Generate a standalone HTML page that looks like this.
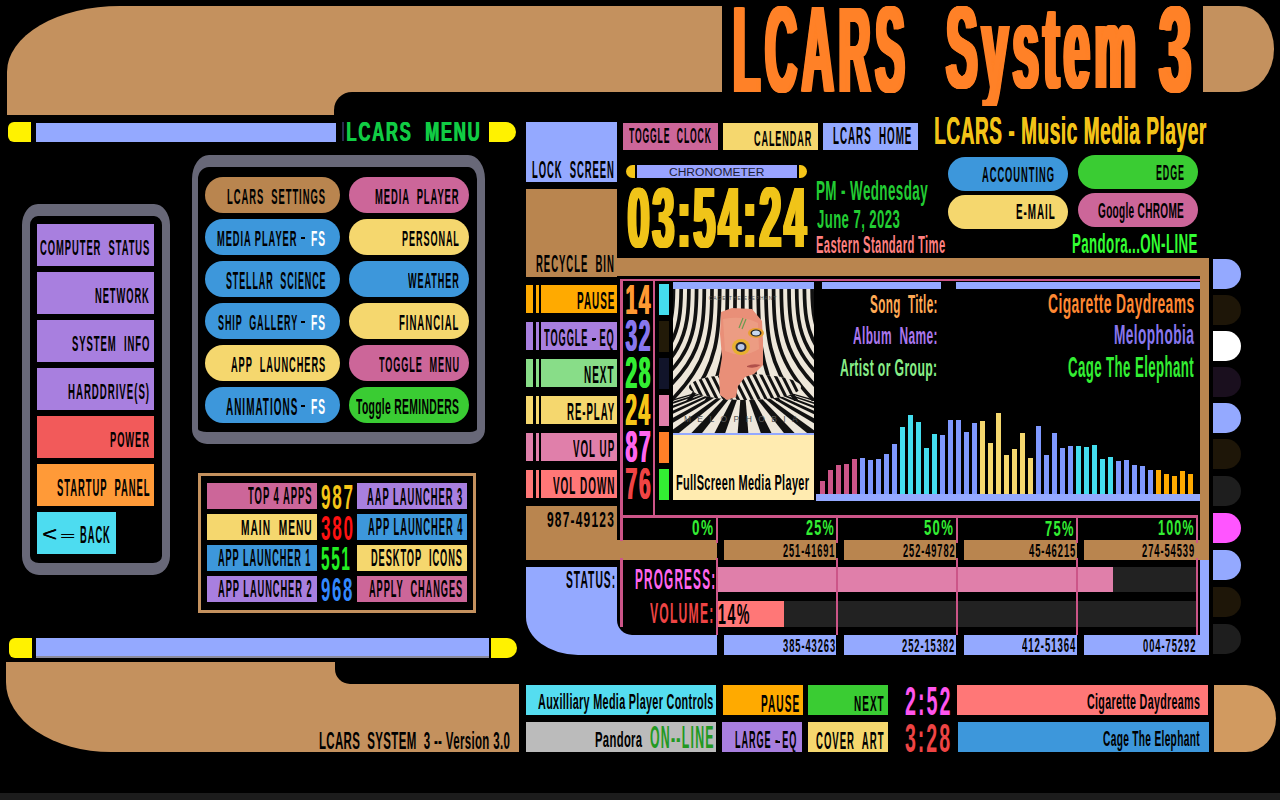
<!DOCTYPE html>
<html><head><meta charset="utf-8"><title>LCARS System 3</title>
<style>
html,body{margin:0;padding:0;background:#000;width:1280px;height:800px;overflow:hidden}
body{position:relative;font-family:"Liberation Sans",sans-serif}
.b{position:absolute}
.t{position:absolute;white-space:pre;line-height:1;font-weight:bold;transform-origin:0 0}
</style></head><body>
<div class="b" style="left:7px;top:6px;width:715px;height:109px;background:#C4915E;border-radius:113px 0 0 0 / 66px 0 0 0;"></div>
<div class="b" style="left:334px;top:91.5px;width:388px;height:26.5px;background:#000;border-radius:18px 0 0 0;"></div>
<div class="b" style="left:1203px;top:6px;width:71px;height:85.5px;background:#C4915E;border-radius:0 35px 35px 0 / 0 42.75px 42.75px 0;"></div>
<div class="t" style="left:731.05px;top:-11.14px;font-size:122.80px;transform:scaleX(0.3554);color:#FF8127;letter-spacing:14.74px;text-shadow:1.58px 0 0 #FF8127,3.17px 0 0 #FF8127,4.75px 0 0 #FF8127,6.33px 0 0 #FF8127,7.91px 0 0 #FF8127,9.50px 0 0 #FF8127,11.08px 0 0 #FF8127,12.66px 0 0 #FF8127;">LCARS</div>
<div class="t" style="left:943.51px;top:-10.85px;font-size:117.37px;transform:scaleX(0.3985);color:#FF8127;letter-spacing:11.74px;text-shadow:1.41px 0 0 #FF8127,2.82px 0 0 #FF8127,4.23px 0 0 #FF8127,5.65px 0 0 #FF8127,7.06px 0 0 #FF8127,8.47px 0 0 #FF8127,9.88px 0 0 #FF8127,11.29px 0 0 #FF8127;">System</div>
<div class="t" style="left:1156.81px;top:-11.36px;font-size:122.33px;transform:scaleX(0.4697);color:#FF8127;letter-spacing:9.79px;text-shadow:1.20px 0 0 #FF8127,2.40px 0 0 #FF8127,3.59px 0 0 #FF8127,4.79px 0 0 #FF8127,5.99px 0 0 #FF8127,7.19px 0 0 #FF8127,8.38px 0 0 #FF8127,9.58px 0 0 #FF8127;">3</div>
<div class="b" style="left:8px;top:122px;width:23px;height:19.5px;background:#FFF200;border-radius:6px 0 0 6px;"></div>
<div class="b" style="left:36px;top:122.5px;width:300px;height:19.0px;background:#94A9FF;"></div>
<div class="b" style="left:342px;top:122px;width:2px;height:19px;background:#2A2A50;"></div>
<div class="t" style="left:345.87px;top:117.61px;font-size:27.64px;transform:scaleX(0.6073);color:#11CC44;letter-spacing:2.76px;text-shadow:1.32px 0 0 #11CC44;">LCARS  MENU</div>
<div class="b" style="left:489px;top:122px;width:27px;height:19.5px;background:#FFF200;border-radius:0 10px 10px 0;"></div>
<div class="b" style="left:9px;top:638px;width:23px;height:20px;background:#FFF200;border-radius:6px 0 0 6px;"></div>
<div class="b" style="left:36px;top:638px;width:453px;height:19px;background:#94A9FF;"></div>
<div class="b" style="left:36px;top:656px;width:453px;height:2px;background:#8a8a9a;"></div>
<div class="b" style="left:491px;top:638px;width:26px;height:20px;background:#FFF200;border-radius:0 10px 10px 0;"></div>
<div class="b" style="left:6px;top:662px;width:513px;height:90px;background:#C4915E;border-radius:0 0 0 105px / 0 0 0 70px;"></div>
<div class="b" style="left:335px;top:660px;width:184px;height:24px;background:#000;border-radius:0 0 0 15px;"></div>
<div class="t" style="left:319.40px;top:728.76px;font-size:23.89px;transform:scaleX(0.4807);color:#000;letter-spacing:0.72px;">LCARS  SYSTEM  3 -- Version 3.0</div>
<div class="b" style="left:1214px;top:685px;width:62px;height:67px;background:#D19A60;border-radius:0 30px 30px 0 / 0 33.5px 33.5px 0;"></div>
<div class="b" style="left:0px;top:793px;width:1280px;height:7px;background:#1C1C1C;"></div>
<div class="b" style="left:21.5px;top:204px;width:148.5px;height:371px;box-sizing:border-box;border:solid #686878;border-width:12px 8px 12px 8px;border-radius:16px 16px 17px 17px / 21px 21px 19px 19px;"></div>
<div class="b" style="left:37px;top:224px;width:117px;height:42px;background:#A87FDF;"></div>
<div class="t" style="left:40.20px;top:236.86px;font-size:22.46px;transform:scaleX(0.4187);color:#000;letter-spacing:2.25px;">COMPUTER  STATUS</div>
<div class="b" style="left:37px;top:272px;width:117px;height:42px;background:#A87FDF;"></div>
<div class="t" style="left:95.18px;top:284.86px;font-size:22.46px;transform:scaleX(0.4156);color:#000;letter-spacing:2.25px;">NETWORK</div>
<div class="b" style="left:37px;top:320px;width:117px;height:42px;background:#A87FDF;"></div>
<div class="t" style="left:72.34px;top:333.20px;font-size:22.37px;transform:scaleX(0.4244);color:#000;letter-spacing:2.24px;">SYSTEM  INFO</div>
<div class="b" style="left:37px;top:368px;width:117px;height:42px;background:#A87FDF;"></div>
<div class="t" style="left:68.35px;top:380.93px;font-size:21.73px;transform:scaleX(0.4454);color:#000;letter-spacing:2.17px;">HARDDRIVE(S)</div>
<div class="b" style="left:37px;top:416px;width:117px;height:42px;background:#F25A5A;"></div>
<div class="t" style="left:110.19px;top:428.86px;font-size:22.46px;transform:scaleX(0.4146);color:#000;letter-spacing:2.25px;">POWER</div>
<div class="b" style="left:37px;top:464px;width:117px;height:42px;background:#FF9A38;"></div>
<div class="t" style="left:56.59px;top:476.63px;font-size:23.20px;transform:scaleX(0.4072);color:#000;letter-spacing:2.32px;">STARTUP  PANEL</div>
<div class="b" style="left:37px;top:512px;width:79px;height:42px;background:#4DDCF0;"></div>
<div class="t" style="left:41.52px;top:523.80px;font-size:20.59px;transform:scaleX(1.2376);color:#000;font-weight:normal;text-shadow:0.48px 0 0 #000;">&lt;</div>
<div class="t" style="left:59.79px;top:530.15px;font-size:11.64px;transform:scaleX(2.1859);color:#000;font-weight:normal;text-shadow:0.27px 0 0 #000;">=</div>
<div class="t" style="left:80.18px;top:523.49px;font-size:24.09px;transform:scaleX(0.3884);color:#000;letter-spacing:2.41px;">BACK</div>
<div class="b" style="left:192px;top:155px;width:293px;height:289px;box-sizing:border-box;border:solid #686878;border-width:12.5px 8px 12px 6px;border-radius:17px 17px 15px 15px / 24px 24px 15px 15px;"></div>
<div class="b" style="left:205px;top:177px;width:135px;height:36px;background:#B9854F;border-radius:18px;"></div>
<div class="b" style="left:349px;top:177px;width:120px;height:36px;background:#CC6699;border-radius:18px;"></div>
<div class="t" style="left:227.17px;top:185.86px;font-size:22.46px;transform:scaleX(0.4194);color:#000;letter-spacing:2.25px;">LCARS  SETTINGS</div>
<div class="t" style="left:375.38px;top:185.88px;font-size:22.11px;transform:scaleX(0.4245);color:#000;letter-spacing:2.21px;">MEDIA  PLAYER</div>
<div class="b" style="left:205px;top:219px;width:135px;height:36px;background:#3D97DB;border-radius:18px;"></div>
<div class="b" style="left:349px;top:219px;width:120px;height:36px;background:#F5D76E;border-radius:18px;"></div>
<div class="t" style="left:217.22px;top:227.15px;font-size:22.98px;transform:scaleX(0.4053);color:#000;letter-spacing:2.30px;">MEDIA PLAYER</div>
<div class="t" style="left:311.44px;top:228.19px;font-size:22.43px;transform:scaleX(0.4553);color:#fff;letter-spacing:2.24px;">FS</div>
<div class="b" style="left:300.5px;top:236.5px;width:4.0px;height:2.5px;background:#000;"></div>
<div class="t" style="left:401.73px;top:227.86px;font-size:22.46px;transform:scaleX(0.4051);color:#000;letter-spacing:2.25px;">PERSONAL</div>
<div class="b" style="left:205px;top:261px;width:135px;height:36px;background:#3D97DB;border-radius:18px;"></div>
<div class="b" style="left:349px;top:261px;width:120px;height:36px;background:#3D97DB;border-radius:18px;"></div>
<div class="t" style="left:225.66px;top:269.63px;font-size:23.20px;transform:scaleX(0.3864);color:#000;letter-spacing:2.32px;">STELLAR  SCIENCE</div>
<div class="t" style="left:407.88px;top:269.15px;font-size:22.98px;transform:scaleX(0.3957);color:#000;letter-spacing:2.30px;">WEATHER</div>
<div class="b" style="left:205px;top:303px;width:135px;height:36px;background:#3D97DB;border-radius:18px;"></div>
<div class="b" style="left:349px;top:303px;width:120px;height:36px;background:#F5D76E;border-radius:18px;"></div>
<div class="t" style="left:217.82px;top:311.86px;font-size:22.46px;transform:scaleX(0.3999);color:#000;letter-spacing:2.25px;">SHIP  GALLERY</div>
<div class="t" style="left:311.44px;top:312.19px;font-size:22.43px;transform:scaleX(0.4553);color:#fff;letter-spacing:2.24px;">FS</div>
<div class="b" style="left:300.5px;top:320.5px;width:4.0px;height:2.5px;background:#000;"></div>
<div class="t" style="left:399.16px;top:311.86px;font-size:22.46px;transform:scaleX(0.4275);color:#000;letter-spacing:2.25px;">FINANCIAL</div>
<div class="b" style="left:205px;top:345px;width:135px;height:36px;background:#F5D76E;border-radius:18px;"></div>
<div class="b" style="left:349px;top:345px;width:120px;height:36px;background:#CC6699;border-radius:18px;"></div>
<div class="t" style="left:231.44px;top:353.86px;font-size:22.46px;transform:scaleX(0.4122);color:#000;letter-spacing:2.25px;">APP  LAUNCHERS</div>
<div class="t" style="left:378.65px;top:353.86px;font-size:22.46px;transform:scaleX(0.4054);color:#000;letter-spacing:2.25px;">TOGGLE  MENU</div>
<div class="b" style="left:205px;top:387px;width:135px;height:36px;background:#3D97DB;border-radius:18px;"></div>
<div class="b" style="left:349px;top:387px;width:120px;height:36px;background:#3ACC33;border-radius:18px;"></div>
<div class="t" style="left:225.82px;top:395.63px;font-size:23.23px;transform:scaleX(0.4289);color:#000;letter-spacing:2.32px;">ANIMATIONS</div>
<div class="t" style="left:311.44px;top:396.19px;font-size:22.43px;transform:scaleX(0.4553);color:#fff;letter-spacing:2.24px;">FS</div>
<div class="b" style="left:300.5px;top:404.5px;width:4.0px;height:2.5px;background:#000;"></div>
<div class="t" style="left:355.77px;top:395.18px;font-size:22.79px;transform:scaleX(0.4554);color:#000;letter-spacing:0.68px;">Toggle REMINDERS</div>
<div class="b" style="left:198px;top:473px;width:278px;height:140px;box-sizing:border-box;border:3px solid #C4915E;"></div>
<div class="b" style="left:207px;top:483px;width:110px;height:26px;background:#CC6699;"></div>
<div class="t" style="left:248.15px;top:484.48px;font-size:24.13px;transform:scaleX(0.3927);color:#000;letter-spacing:2.41px;">TOP 4 APPS</div>
<div class="b" style="left:357px;top:483px;width:110px;height:26px;background:#A87FDF;"></div>
<div class="t" style="left:367.20px;top:485.00px;font-size:23.77px;transform:scaleX(0.3957);color:#000;letter-spacing:2.38px;">AAP LAUNCHER 3</div>
<div class="t" style="left:321.47px;top:479.54px;font-size:34.35px;transform:scaleX(0.4981);color:#F5C518;letter-spacing:3.43px;">987</div>
<div class="b" style="left:207px;top:514px;width:110px;height:26px;background:#F5D76E;"></div>
<div class="t" style="left:240.70px;top:516.61px;font-size:22.60px;transform:scaleX(0.4498);color:#000;letter-spacing:2.26px;">MAIN  MENU</div>
<div class="b" style="left:357px;top:514px;width:110px;height:26px;background:#3D97DB;"></div>
<div class="t" style="left:367.71px;top:515.49px;font-size:24.09px;transform:scaleX(0.3898);color:#000;letter-spacing:2.41px;">APP LAUNCHER 4</div>
<div class="t" style="left:321.28px;top:510.51px;font-size:34.43px;transform:scaleX(0.4955);color:#FF1111;letter-spacing:3.44px;">380</div>
<div class="b" style="left:207px;top:545px;width:110px;height:26px;background:#3D97DB;"></div>
<div class="t" style="left:217.56px;top:546.49px;font-size:24.09px;transform:scaleX(0.3816);color:#000;letter-spacing:2.41px;">APP LAUNCHER 1</div>
<div class="b" style="left:357px;top:545px;width:110px;height:26px;background:#F5D76E;"></div>
<div class="t" style="left:371.41px;top:547.03px;font-size:23.62px;transform:scaleX(0.3925);color:#000;letter-spacing:2.36px;">DESKTOP  ICONS</div>
<div class="t" style="left:321.19px;top:541.63px;font-size:33.75px;transform:scaleX(0.4591);color:#22EE22;letter-spacing:3.37px;">551</div>
<div class="b" style="left:207px;top:576px;width:110px;height:26px;background:#A87FDF;"></div>
<div class="t" style="left:217.55px;top:577.49px;font-size:24.09px;transform:scaleX(0.3863);color:#000;letter-spacing:2.41px;">APP LAUNCHER 2</div>
<div class="b" style="left:357px;top:576px;width:110px;height:26px;background:#CC6699;"></div>
<div class="t" style="left:369.44px;top:577.49px;font-size:24.09px;transform:scaleX(0.3838);color:#000;letter-spacing:2.41px;">APPLY  CHANGES</div>
<div class="t" style="left:321.41px;top:572.68px;font-size:33.45px;transform:scaleX(0.5025);color:#3388FF;letter-spacing:3.35px;">968</div>
<div class="b" style="left:526px;top:122px;width:91px;height:60px;background:#94A9FF;"></div>
<div class="t" style="left:532.17px;top:157.50px;font-size:23.97px;transform:scaleX(0.3945);color:#000;letter-spacing:2.40px;">LOCK  SCREEN</div>
<div class="b" style="left:526px;top:189px;width:91px;height:87.5px;background:#B9854F;"></div>
<div class="b" style="left:617px;top:258px;width:592px;height:18.2px;background:#B9854F;"></div>
<div class="b" style="left:1200px;top:258px;width:9px;height:302px;background:#B9854F;"></div>
<div class="t" style="left:536.17px;top:252.49px;font-size:24.09px;transform:scaleX(0.3961);color:#000;letter-spacing:2.41px;">RECYCLE  BIN</div>
<div class="b" style="left:623px;top:123px;width:95px;height:27px;background:#CC6699;"></div>
<div class="t" style="left:629.18px;top:124.86px;font-size:22.46px;transform:scaleX(0.3831);color:#000;letter-spacing:2.25px;">TOGGLE  CLOCK</div>
<div class="b" style="left:723px;top:123px;width:95px;height:27px;background:#F5D76E;"></div>
<div class="t" style="left:753.83px;top:128.20px;font-size:22.37px;transform:scaleX(0.4056);color:#000;letter-spacing:2.24px;">CALENDAR</div>
<div class="b" style="left:823px;top:123px;width:95px;height:27px;background:#94A9FF;"></div>
<div class="t" style="left:832.62px;top:124.49px;font-size:24.09px;transform:scaleX(0.4070);color:#000;letter-spacing:2.41px;">LCARS  HOME</div>
<div class="b" style="left:626px;top:165px;width:9px;height:13px;background:#F5C518;border-radius:6.5px 0 0 6.5px;"></div>
<div class="b" style="left:636.5px;top:165px;width:160.5px;height:13px;background:#99A3FF;"></div>
<div class="b" style="left:799px;top:165px;width:8px;height:13px;background:#F5C518;border-radius:0 6.5px 6.5px 0;"></div>
<div class="t" style="left:669.41px;top:167.13px;font-size:11.49px;transform:scaleX(1.0466);color:#1C1C34;font-weight:normal;">CHRONOMETER</div>
<div class="t" style="left:625.79px;top:175.06px;font-size:84.98px;transform:scaleX(0.4597);color:#F0C419;letter-spacing:6.80px;text-shadow:1.27px 0 0 #F0C419,2.55px 0 0 #F0C419,3.82px 0 0 #F0C419,5.09px 0 0 #F0C419,6.36px 0 0 #F0C419,7.64px 0 0 #F0C419;">03:54:24</div>
<div class="t" style="left:815.85px;top:177.24px;font-size:27.46px;transform:scaleX(0.4888);color:#22CC33;letter-spacing:0.82px;">PM - Wednesday</div>
<div class="t" style="left:816.77px;top:206.68px;font-size:25.53px;transform:scaleX(0.5165);color:#22CC33;letter-spacing:0.77px;">June 7, 2023</div>
<div class="t" style="left:816.24px;top:232.70px;font-size:24.69px;transform:scaleX(0.4559);color:#FF8080;letter-spacing:0.74px;">Eastern Standard Time</div>
<div class="b" style="left:935px;top:106px;width:165px;height:8px;background:#000;"></div>
<div class="t" style="left:933.82px;top:111.92px;font-size:38.23px;transform:scaleX(0.4974);color:#F2C318;letter-spacing:1.15px;text-shadow:0.80px 0 0 #F2C318;">LCARS - Music Media Player</div>
<div class="b" style="left:948px;top:156.5px;width:120px;height:34.0px;background:#3D97DB;border-radius:17px;"></div>
<div class="t" style="left:982.06px;top:164.03px;font-size:22.12px;transform:scaleX(0.4238);color:#000;letter-spacing:2.21px;">ACCOUNTING</div>
<div class="b" style="left:1078px;top:155px;width:120px;height:34px;background:#3ACC33;border-radius:17px;"></div>
<div class="t" style="left:1156.25px;top:162.36px;font-size:22.46px;transform:scaleX(0.3965);color:#000;letter-spacing:2.25px;">EDGE</div>
<div class="b" style="left:948px;top:194.5px;width:120px;height:34.0px;background:#F5D76E;border-radius:17px;"></div>
<div class="t" style="left:1015.52px;top:201.02px;font-size:22.55px;transform:scaleX(0.4371);color:#000;letter-spacing:2.25px;">E-MAIL</div>
<div class="b" style="left:1078px;top:193px;width:120px;height:34px;background:#CC6699;border-radius:17px;"></div>
<div class="t" style="left:1098.32px;top:199.07px;font-size:22.93px;transform:scaleX(0.4390);color:#000;letter-spacing:0.69px;">Google CHROME</div>
<div class="t" style="left:1072.10px;top:229.61px;font-size:27.64px;transform:scaleX(0.4815);color:#33FF33;letter-spacing:0.83px;">Pandora...ON-LINE</div>
<div class="b" style="left:526px;top:285px;width:7px;height:28px;background:#FFAA00;"></div>
<div class="b" style="left:536px;top:285px;width:2.5px;height:28px;background:#FFAA00;"></div>
<div class="b" style="left:541px;top:285px;width:76px;height:28px;background:#FFAA00;"></div>
<div class="t" style="left:576.55px;top:288.97px;font-size:24.72px;transform:scaleX(0.4017);color:#000;letter-spacing:2.47px;">PAUSE</div>
<div class="t" style="left:624.71px;top:277.80px;font-size:42.76px;transform:scaleX(0.4895);color:#FF9933;letter-spacing:3.42px;text-shadow:0.92px 0 0 #FF9933,1.84px 0 0 #FF9933;">14</div>
<div class="b" style="left:659px;top:284px;width:10px;height:31px;background:#44DDEE;"></div>
<div class="b" style="left:526px;top:322px;width:7px;height:28px;background:#A87FDF;"></div>
<div class="b" style="left:536px;top:322px;width:2.5px;height:28px;background:#A87FDF;"></div>
<div class="b" style="left:541px;top:322px;width:76px;height:28px;background:#A87FDF;"></div>
<div class="t" style="left:544.08px;top:325.66px;font-size:24.81px;transform:scaleX(0.3732);color:#000;letter-spacing:2.48px;">TOGGLE - EQ</div>
<div class="t" style="left:625.44px;top:315.42px;font-size:43.57px;transform:scaleX(0.4825);color:#8877EE;letter-spacing:3.49px;text-shadow:0.93px 0 0 #8877EE,1.87px 0 0 #8877EE;">32</div>
<div class="b" style="left:659px;top:321px;width:10px;height:31px;background:#221A08;"></div>
<div class="b" style="left:526px;top:359px;width:7px;height:28px;background:#88DD88;"></div>
<div class="b" style="left:536px;top:359px;width:2.5px;height:28px;background:#88DD88;"></div>
<div class="b" style="left:541px;top:359px;width:76px;height:28px;background:#88DD88;"></div>
<div class="t" style="left:584.34px;top:362.67px;font-size:24.73px;transform:scaleX(0.4018);color:#000;letter-spacing:2.47px;">NEXT</div>
<div class="t" style="left:625.27px;top:351.06px;font-size:43.64px;transform:scaleX(0.4807);color:#33EE33;letter-spacing:3.49px;text-shadow:0.94px 0 0 #33EE33,1.87px 0 0 #33EE33;">28</div>
<div class="b" style="left:659px;top:358px;width:10px;height:31px;background:#11142A;"></div>
<div class="b" style="left:526px;top:396px;width:7px;height:28px;background:#F5D76E;"></div>
<div class="b" style="left:536px;top:396px;width:2.5px;height:28px;background:#F5D76E;"></div>
<div class="b" style="left:541px;top:396px;width:76px;height:28px;background:#F5D76E;"></div>
<div class="t" style="left:566.82px;top:399.67px;font-size:24.73px;transform:scaleX(0.3891);color:#000;letter-spacing:2.47px;">RE-PLAY</div>
<div class="t" style="left:625.28px;top:388.06px;font-size:43.64px;transform:scaleX(0.4703);color:#F5C518;letter-spacing:3.49px;text-shadow:0.96px 0 0 #F5C518,1.91px 0 0 #F5C518;">24</div>
<div class="b" style="left:659px;top:395px;width:10px;height:31px;background:#E07FAA;"></div>
<div class="b" style="left:526px;top:433px;width:7px;height:28px;background:#E07FAA;"></div>
<div class="b" style="left:536px;top:433px;width:2.5px;height:28px;background:#E07FAA;"></div>
<div class="b" style="left:541px;top:433px;width:76px;height:28px;background:#E07FAA;"></div>
<div class="t" style="left:572.63px;top:436.68px;font-size:24.71px;transform:scaleX(0.3966);color:#000;letter-spacing:2.47px;">VOL UP</div>
<div class="t" style="left:625.31px;top:425.06px;font-size:43.64px;transform:scaleX(0.4851);color:#FF66EE;letter-spacing:3.49px;text-shadow:0.93px 0 0 #FF66EE,1.86px 0 0 #FF66EE;">87</div>
<div class="b" style="left:659px;top:432px;width:10px;height:31px;background:#FF7F27;"></div>
<div class="b" style="left:526px;top:470px;width:7px;height:28px;background:#FF7777;"></div>
<div class="b" style="left:536px;top:470px;width:2.5px;height:28px;background:#FF7777;"></div>
<div class="b" style="left:541px;top:470px;width:76px;height:28px;background:#FF7777;"></div>
<div class="t" style="left:552.63px;top:473.68px;font-size:24.71px;transform:scaleX(0.4023);color:#000;letter-spacing:2.47px;">VOL DOWN</div>
<div class="t" style="left:624.94px;top:462.36px;font-size:44.83px;transform:scaleX(0.4725);color:#EE4444;letter-spacing:3.59px;text-shadow:0.95px 0 0 #EE4444,1.90px 0 0 #EE4444;">76</div>
<div class="b" style="left:659px;top:469px;width:10px;height:31px;background:#33EE33;"></div>
<div class="b" style="left:592px;top:338px;width:3.5px;height:2.2px;background:#000;"></div>
<div class="b" style="left:526px;top:506px;width:91px;height:54px;background:#B9854F;"></div>
<div class="b" style="left:526px;top:540px;width:191px;height:20px;background:#B9854F;"></div>
<div class="t" style="left:546.61px;top:509.49px;font-size:21.16px;transform:scaleX(0.5657);color:#000;letter-spacing:2.12px;">987-49123</div>
<div class="b" style="left:620px;top:279px;width:2.5px;height:262px;background:#CC5588;"></div>
<div class="b" style="left:620px;top:279px;width:580px;height:2px;background:#CC5588;"></div>
<div class="b" style="left:653px;top:279px;width:2px;height:236px;background:#CC5588;"></div>
<div class="b" style="left:620px;top:515px;width:578px;height:3px;background:#CC5588;"></div>
<div class="b" style="left:673px;top:282px;width:141px;height:7px;background:#94A9FF;"></div>
<div class="b" style="left:822px;top:282px;width:119px;height:7px;background:#94A9FF;"></div>
<div class="b" style="left:956px;top:282px;width:244px;height:7px;background:#94A9FF;"></div>
<svg class="b" style="left:673px;top:289px" width="141" height="144" viewBox="0 0 141 144"><defs><clipPath id="up"><rect x="0" y="0" width="141" height="112"/></clipPath><clipPath id="fl"><rect x="0" y="104" width="141" height="40"/></clipPath><clipPath id="sh"><ellipse cx="72" cy="98" rx="56" ry="13"/></clipPath></defs><rect width="141" height="144" fill="#EEE7DA"/><g clip-path="url(#up)"><path d="M-76.5,-2 C-76.5,45 -91.2,75 -281.6,114" stroke="#111" stroke-width="3.7" fill="none"/><path d="M-68.8,-2 C-68.8,45 -82.7,75 -263.1,114" stroke="#111" stroke-width="3.7" fill="none"/><path d="M-61.1,-2 C-61.1,45 -74.2,75 -244.6,114" stroke="#111" stroke-width="3.7" fill="none"/><path d="M-53.4,-2 C-53.4,45 -65.7,75 -226.2,114" stroke="#111" stroke-width="3.7" fill="none"/><path d="M-45.7,-2 C-45.7,45 -57.3,75 -207.7,114" stroke="#111" stroke-width="3.7" fill="none"/><path d="M-38.0,-2 C-38.0,45 -48.8,75 -189.2,114" stroke="#111" stroke-width="3.7" fill="none"/><path d="M-30.3,-2 C-30.3,45 -40.3,75 -170.7,114" stroke="#111" stroke-width="3.7" fill="none"/><path d="M-22.6,-2 C-22.6,45 -31.9,75 -152.2,114" stroke="#111" stroke-width="3.7" fill="none"/><path d="M-14.9,-2 C-14.9,45 -23.4,75 -133.8,114" stroke="#111" stroke-width="3.7" fill="none"/><path d="M-7.2,-2 C-7.2,45 -14.9,75 -115.3,114" stroke="#111" stroke-width="3.7" fill="none"/><path d="M0.5,-2 C0.5,45 -6.5,75 -96.8,114" stroke="#111" stroke-width="3.7" fill="none"/><path d="M8.2,-2 C8.2,45 2.0,75 -78.3,114" stroke="#111" stroke-width="3.7" fill="none"/><path d="M15.9,-2 C15.9,45 10.5,75 -59.8,114" stroke="#111" stroke-width="3.7" fill="none"/><path d="M23.6,-2 C23.6,45 19.0,75 -41.4,114" stroke="#111" stroke-width="3.7" fill="none"/><path d="M31.3,-2 C31.3,45 27.4,75 -22.9,114" stroke="#111" stroke-width="3.7" fill="none"/><path d="M39.0,-2 C39.0,45 35.9,75 -4.4,114" stroke="#111" stroke-width="3.7" fill="none"/><path d="M46.7,-2 C46.7,45 44.4,75 14.1,114" stroke="#111" stroke-width="3.7" fill="none"/><path d="M54.4,-2 C54.4,45 52.8,75 32.6,114" stroke="#111" stroke-width="3.7" fill="none"/><path d="M62.1,-2 C62.1,45 61.3,75 51.0,114" stroke="#111" stroke-width="3.7" fill="none"/><path d="M69.8,-2 C69.8,45 69.8,75 69.5,114" stroke="#111" stroke-width="3.7" fill="none"/><path d="M77.5,-2 C77.5,45 78.2,75 88.0,114" stroke="#111" stroke-width="3.7" fill="none"/><path d="M85.2,-2 C85.2,45 86.7,75 106.5,114" stroke="#111" stroke-width="3.7" fill="none"/><path d="M92.9,-2 C92.9,45 95.2,75 125.0,114" stroke="#111" stroke-width="3.7" fill="none"/><path d="M100.6,-2 C100.6,45 103.7,75 143.4,114" stroke="#111" stroke-width="3.7" fill="none"/><path d="M108.3,-2 C108.3,45 112.1,75 161.9,114" stroke="#111" stroke-width="3.7" fill="none"/><path d="M116.0,-2 C116.0,45 120.6,75 180.4,114" stroke="#111" stroke-width="3.7" fill="none"/><path d="M123.7,-2 C123.7,45 129.1,75 198.9,114" stroke="#111" stroke-width="3.7" fill="none"/><path d="M131.4,-2 C131.4,45 137.5,75 217.4,114" stroke="#111" stroke-width="3.7" fill="none"/><path d="M139.1,-2 C139.1,45 146.0,75 235.8,114" stroke="#111" stroke-width="3.7" fill="none"/><path d="M146.8,-2 C146.8,45 154.5,75 254.3,114" stroke="#111" stroke-width="3.7" fill="none"/><path d="M154.5,-2 C154.5,45 162.9,75 272.8,114" stroke="#111" stroke-width="3.7" fill="none"/><path d="M162.2,-2 C162.2,45 171.4,75 291.3,114" stroke="#111" stroke-width="3.7" fill="none"/><path d="M169.9,-2 C169.9,45 179.9,75 309.8,114" stroke="#111" stroke-width="3.7" fill="none"/><path d="M177.6,-2 C177.6,45 188.4,75 328.2,114" stroke="#111" stroke-width="3.7" fill="none"/><path d="M185.3,-2 C185.3,45 196.8,75 346.7,114" stroke="#111" stroke-width="3.7" fill="none"/><path d="M193.0,-2 C193.0,45 205.3,75 365.2,114" stroke="#111" stroke-width="3.7" fill="none"/><path d="M200.7,-2 C200.7,45 213.8,75 383.7,114" stroke="#111" stroke-width="3.7" fill="none"/><path d="M208.4,-2 C208.4,45 222.2,75 402.2,114" stroke="#111" stroke-width="3.7" fill="none"/></g><g clip-path="url(#fl)"><polygon points="36.2,100 39.8,100 -116.5,146 -127.5,146" fill="#111"/><polygon points="40.2,100 43.8,100 -92.5,146 -103.5,146" fill="#111"/><polygon points="44.2,100 47.8,100 -68.5,146 -79.5,146" fill="#111"/><polygon points="48.2,100 51.8,100 -44.5,146 -55.5,146" fill="#111"/><polygon points="52.2,100 55.8,100 -20.5,146 -31.5,146" fill="#111"/><polygon points="56.2,100 59.8,100 3.5,146 -7.5,146" fill="#111"/><polygon points="60.2,100 63.8,100 27.5,146 16.5,146" fill="#111"/><polygon points="64.2,100 67.8,100 51.5,146 40.5,146" fill="#111"/><polygon points="68.2,100 71.8,100 75.5,146 64.5,146" fill="#111"/><polygon points="72.2,100 75.8,100 99.5,146 88.5,146" fill="#111"/><polygon points="76.2,100 79.8,100 123.5,146 112.5,146" fill="#111"/><polygon points="80.2,100 83.8,100 147.5,146 136.5,146" fill="#111"/><polygon points="84.2,100 87.8,100 171.5,146 160.5,146" fill="#111"/><polygon points="88.2,100 91.8,100 195.5,146 184.5,146" fill="#111"/><polygon points="92.2,100 95.8,100 219.5,146 208.5,146" fill="#111"/><polygon points="96.2,100 99.8,100 243.5,146 232.5,146" fill="#111"/><polygon points="100.2,100 103.8,100 267.5,146 256.5,146" fill="#111"/></g><g clip-path="url(#sh)"><rect x="0" y="80" width="141" height="40" fill="#EEE7DA"/><path d="M-60,84 L-46,112" stroke="#111" stroke-width="3" fill="none"/><path d="M-53,84 L-39,112" stroke="#111" stroke-width="3" fill="none"/><path d="M-46,84 L-32,112" stroke="#111" stroke-width="3" fill="none"/><path d="M-39,84 L-25,112" stroke="#111" stroke-width="3" fill="none"/><path d="M-32,84 L-18,112" stroke="#111" stroke-width="3" fill="none"/><path d="M-25,84 L-11,112" stroke="#111" stroke-width="3" fill="none"/><path d="M-18,84 L-4,112" stroke="#111" stroke-width="3" fill="none"/><path d="M-11,84 L3,112" stroke="#111" stroke-width="3" fill="none"/><path d="M-4,84 L10,112" stroke="#111" stroke-width="3" fill="none"/><path d="M3,84 L17,112" stroke="#111" stroke-width="3" fill="none"/><path d="M10,84 L24,112" stroke="#111" stroke-width="3" fill="none"/><path d="M17,84 L31,112" stroke="#111" stroke-width="3" fill="none"/><path d="M24,84 L38,112" stroke="#111" stroke-width="3" fill="none"/><path d="M31,84 L45,112" stroke="#111" stroke-width="3" fill="none"/><path d="M38,84 L52,112" stroke="#111" stroke-width="3" fill="none"/><path d="M45,84 L59,112" stroke="#111" stroke-width="3" fill="none"/><path d="M52,84 L66,112" stroke="#111" stroke-width="3" fill="none"/><path d="M59,84 L73,112" stroke="#111" stroke-width="3" fill="none"/><path d="M66,84 L80,112" stroke="#111" stroke-width="3" fill="none"/><path d="M73,84 L87,112" stroke="#111" stroke-width="3" fill="none"/><path d="M80,84 L94,112" stroke="#111" stroke-width="3" fill="none"/><path d="M87,84 L101,112" stroke="#111" stroke-width="3" fill="none"/><path d="M94,84 L108,112" stroke="#111" stroke-width="3" fill="none"/><path d="M101,84 L115,112" stroke="#111" stroke-width="3" fill="none"/><path d="M108,84 L122,112" stroke="#111" stroke-width="3" fill="none"/><path d="M115,84 L129,112" stroke="#111" stroke-width="3" fill="none"/></g><polygon points="48,23 59,19 79,20 89,32 90,52 90,76 81,85 72,88 65,97 63,108 54,111 47,106 46,86 49,68 47,45" fill="#E98F78"/><path d="M50,30 Q70,26 85,34 L86,60 Q70,70 52,62 Z" fill="#EFA58A" opacity="0.6"/><ellipse cx="68" cy="58" rx="9" ry="8" fill="#E8B030"/><ellipse cx="68" cy="58" rx="5.5" ry="5" fill="#2A2A3A"/><ellipse cx="68" cy="58" rx="3.5" ry="3" fill="#B8C8E8"/><ellipse cx="83" cy="44" rx="8" ry="5" fill="#E8A030"/><ellipse cx="83" cy="44" rx="5.5" ry="3.5" fill="#222"/><ellipse cx="83" cy="44" rx="4" ry="2.5" fill="#C8D8F0"/><path d="M66,39 L70,29 M69,40 L73,30" stroke="#6C9A50" stroke-width="1.2"/><path d="M74,77 Q80,74 88,76 Q82,80 74,78 Z" fill="#B0504A"/><text x="71" y="133" font-family="Liberation Sans" font-size="8.5" fill="#555" text-anchor="middle" letter-spacing="6.4">MELOPHOBIA</text><text x="70" y="11" font-family="Liberation Sans" font-size="5" fill="#555" text-anchor="middle" letter-spacing="0.9">CAGE THE ELEPHANT</text></svg>
<div class="b" style="left:673px;top:433px;width:141px;height:2px;background:#94A9FF;"></div>
<div class="b" style="left:673px;top:435px;width:141px;height:65px;background:#FFEBB0;"></div>
<div class="t" style="left:676.42px;top:471.65px;font-size:22.36px;transform:scaleX(0.4888);color:#000;letter-spacing:0.67px;">FullScreen Media Player</div>
<div class="t" style="left:869.65px;top:291.93px;font-size:25.65px;transform:scaleX(0.4571);color:#FFAA55;letter-spacing:0.77px;">Song  Title:</div>
<div class="t" style="left:852.61px;top:323.81px;font-size:24.76px;transform:scaleX(0.4837);color:#AA77EE;letter-spacing:0.74px;">Album  Name:</div>
<div class="t" style="left:840.27px;top:355.81px;font-size:24.23px;transform:scaleX(0.5044);color:#88EE88;letter-spacing:0.73px;">Artist or Group:</div>
<div class="t" style="left:1048.42px;top:290.24px;font-size:27.11px;transform:scaleX(0.5114);color:#FF8833;letter-spacing:0.81px;">Cigarette Daydreams</div>
<div class="t" style="left:1114.08px;top:321.11px;font-size:27.64px;transform:scaleX(0.4958);color:#8877EE;letter-spacing:0.83px;">Melophobia</div>
<div class="t" style="left:1068.38px;top:352.23px;font-size:29.57px;transform:scaleX(0.4483);color:#33EE33;letter-spacing:0.89px;">Cage The Elephant</div>
<div class="b" style="left:820px;top:481px;width:5px;height:13px;background:#CC5588;"></div>
<div class="b" style="left:828px;top:470px;width:5px;height:24px;background:#CC5588;"></div>
<div class="b" style="left:836px;top:465px;width:5px;height:29px;background:#CC5588;"></div>
<div class="b" style="left:844px;top:464px;width:5px;height:30px;background:#CC5588;"></div>
<div class="b" style="left:852px;top:459px;width:5px;height:35px;background:#CC5588;"></div>
<div class="b" style="left:860px;top:458px;width:5px;height:36px;background:#7F99FF;"></div>
<div class="b" style="left:868px;top:460px;width:5px;height:34px;background:#7F99FF;"></div>
<div class="b" style="left:876px;top:459px;width:5px;height:35px;background:#7F99FF;"></div>
<div class="b" style="left:884px;top:454px;width:5px;height:40px;background:#7F99FF;"></div>
<div class="b" style="left:892px;top:444px;width:5px;height:50px;background:#7F99FF;"></div>
<div class="b" style="left:900px;top:427px;width:5px;height:67px;background:#44DDEE;"></div>
<div class="b" style="left:908px;top:415px;width:5px;height:79px;background:#44DDEE;"></div>
<div class="b" style="left:916px;top:422px;width:5px;height:72px;background:#44DDEE;"></div>
<div class="b" style="left:924px;top:448px;width:5px;height:46px;background:#44DDEE;"></div>
<div class="b" style="left:932px;top:434px;width:5px;height:60px;background:#44DDEE;"></div>
<div class="b" style="left:940px;top:435px;width:5px;height:59px;background:#7F99FF;"></div>
<div class="b" style="left:948px;top:420px;width:5px;height:74px;background:#7F99FF;"></div>
<div class="b" style="left:956px;top:420px;width:5px;height:74px;background:#7F99FF;"></div>
<div class="b" style="left:964px;top:432px;width:5px;height:62px;background:#7F99FF;"></div>
<div class="b" style="left:972px;top:423px;width:5px;height:71px;background:#7F99FF;"></div>
<div class="b" style="left:980px;top:421px;width:5px;height:73px;background:#F5D76E;"></div>
<div class="b" style="left:988px;top:443px;width:5px;height:51px;background:#F5D76E;"></div>
<div class="b" style="left:996px;top:413px;width:5px;height:81px;background:#F5D76E;"></div>
<div class="b" style="left:1004px;top:455px;width:5px;height:39px;background:#F5D76E;"></div>
<div class="b" style="left:1012px;top:449px;width:5px;height:45px;background:#F5D76E;"></div>
<div class="b" style="left:1020px;top:433px;width:5px;height:61px;background:#F5D76E;"></div>
<div class="b" style="left:1028px;top:458px;width:5px;height:36px;background:#F5D76E;"></div>
<div class="b" style="left:1036px;top:426px;width:5px;height:68px;background:#7F99FF;"></div>
<div class="b" style="left:1044px;top:455px;width:5px;height:39px;background:#7F99FF;"></div>
<div class="b" style="left:1052px;top:433px;width:5px;height:61px;background:#7F99FF;"></div>
<div class="b" style="left:1060px;top:448px;width:5px;height:46px;background:#7F99FF;"></div>
<div class="b" style="left:1068px;top:446px;width:5px;height:48px;background:#7F99FF;"></div>
<div class="b" style="left:1076px;top:446px;width:5px;height:48px;background:#44DDEE;"></div>
<div class="b" style="left:1084px;top:447px;width:5px;height:47px;background:#44DDEE;"></div>
<div class="b" style="left:1092px;top:445px;width:5px;height:49px;background:#44DDEE;"></div>
<div class="b" style="left:1100px;top:459px;width:5px;height:35px;background:#44DDEE;"></div>
<div class="b" style="left:1108px;top:457px;width:5px;height:37px;background:#44DDEE;"></div>
<div class="b" style="left:1116px;top:461px;width:5px;height:33px;background:#7F99FF;"></div>
<div class="b" style="left:1124px;top:460px;width:5px;height:34px;background:#7F99FF;"></div>
<div class="b" style="left:1132px;top:465px;width:5px;height:29px;background:#7F99FF;"></div>
<div class="b" style="left:1140px;top:466px;width:5px;height:28px;background:#7F99FF;"></div>
<div class="b" style="left:1148px;top:470px;width:5px;height:24px;background:#7F99FF;"></div>
<div class="b" style="left:1156px;top:470px;width:5px;height:24px;background:#FFAA00;"></div>
<div class="b" style="left:1164px;top:474px;width:5px;height:20px;background:#FFAA00;"></div>
<div class="b" style="left:1172px;top:476px;width:5px;height:18px;background:#FFAA00;"></div>
<div class="b" style="left:1180px;top:471px;width:5px;height:23px;background:#FFAA00;"></div>
<div class="b" style="left:1188px;top:474px;width:5px;height:20px;background:#FFAA00;"></div>
<div class="b" style="left:816px;top:494px;width:384px;height:7px;background:#94A9FF;"></div>
<div class="t" style="left:692.46px;top:517.03px;font-size:21.82px;transform:scaleX(0.6204);color:#33EE33;letter-spacing:2.18px;">0%</div>
<div class="t" style="left:805.56px;top:517.03px;font-size:21.82px;transform:scaleX(0.5783);color:#33EE33;letter-spacing:2.18px;">25%</div>
<div class="t" style="left:924.29px;top:517.13px;font-size:22.24px;transform:scaleX(0.5895);color:#33EE33;letter-spacing:2.22px;">50%</div>
<div class="t" style="left:1044.77px;top:518.47px;font-size:21.64px;transform:scaleX(0.5956);color:#33EE33;letter-spacing:2.16px;">75%</div>
<div class="t" style="left:1157.72px;top:517.03px;font-size:21.82px;transform:scaleX(0.5714);color:#33EE33;letter-spacing:2.18px;">100%</div>
<div class="b" style="left:724px;top:540px;width:112px;height:20px;background:#B9854F;"></div>
<div class="t" style="left:782.75px;top:541.64px;font-size:18.81px;transform:scaleX(0.4901);color:#000;letter-spacing:1.88px;">251-41691</div>
<div class="b" style="left:844px;top:540px;width:112px;height:20px;background:#B9854F;"></div>
<div class="t" style="left:902.75px;top:541.64px;font-size:18.81px;transform:scaleX(0.4922);color:#000;letter-spacing:1.88px;">252-49782</div>
<div class="b" style="left:964px;top:540px;width:113px;height:20px;background:#B9854F;"></div>
<div class="t" style="left:1028.73px;top:541.43px;font-size:19.24px;transform:scaleX(0.4890);color:#000;letter-spacing:1.92px;">45-46215</div>
<div class="b" style="left:1084px;top:540px;width:125px;height:20px;background:#B9854F;"></div>
<div class="t" style="left:1142.45px;top:541.42px;font-size:19.28px;transform:scaleX(0.4850);color:#000;letter-spacing:1.93px;">274-54539</div>
<div class="b" style="left:526px;top:567px;width:191px;height:88px;background:#94A9FF;border-radius:0 0 0 52px / 0 0 0 38px;"></div>
<div class="b" style="left:617px;top:560px;width:100px;height:75px;background:#000;border-radius:0 0 0 15px;"></div>
<div class="b" style="left:1200px;top:560px;width:9px;height:95px;background:#94A9FF;"></div>
<div class="b" style="left:724px;top:635px;width:112px;height:20px;background:#94A9FF;"></div>
<div class="t" style="left:782.54px;top:636.42px;font-size:19.28px;transform:scaleX(0.4853);color:#000;letter-spacing:1.93px;">385-43263</div>
<div class="b" style="left:844px;top:635px;width:112px;height:20px;background:#94A9FF;"></div>
<div class="t" style="left:902.45px;top:636.42px;font-size:19.28px;transform:scaleX(0.4852);color:#000;letter-spacing:1.93px;">252-15382</div>
<div class="b" style="left:964px;top:635px;width:113px;height:20px;background:#94A9FF;"></div>
<div class="t" style="left:1022.09px;top:636.25px;font-size:19.65px;transform:scaleX(0.4859);color:#000;letter-spacing:1.97px;">412-51364</div>
<div class="b" style="left:1084px;top:635px;width:125px;height:20px;background:#94A9FF;"></div>
<div class="t" style="left:1142.52px;top:636.64px;font-size:18.81px;transform:scaleX(0.4989);color:#000;letter-spacing:1.88px;">004-75292</div>
<div class="t" style="left:565.73px;top:569.06px;font-size:23.18px;transform:scaleX(0.4430);color:#000;letter-spacing:2.32px;">STATUS:</div>
<div class="t" style="left:635.18px;top:564.17px;font-size:29.30px;transform:scaleX(0.4019);color:#FF66EE;letter-spacing:2.93px;">PROGRESS:</div>
<div class="t" style="left:650.11px;top:597.86px;font-size:30.11px;transform:scaleX(0.4031);color:#EE4444;letter-spacing:3.01px;">VOLUME:</div>
<div class="b" style="left:718px;top:567px;width:478px;height:25px;background:#222222;"></div>
<div class="b" style="left:718px;top:567px;width:395px;height:25px;background:#E07FAA;"></div>
<div class="b" style="left:718px;top:601px;width:478px;height:26px;background:#222222;"></div>
<div class="b" style="left:718px;top:601px;width:66px;height:26px;background:#FF7777;"></div>
<div class="t" style="left:718.01px;top:598.99px;font-size:29.85px;transform:scaleX(0.4789);color:#000;letter-spacing:2.99px;">14%</div>
<div class="b" style="left:620px;top:558px;width:2.5px;height:69px;background:#CC5588;"></div>
<div class="b" style="left:716px;top:517px;width:2px;height:26px;background:#CC5588;"></div>
<div class="b" style="left:716px;top:558px;width:2px;height:77px;background:#CC5588;"></div>
<div class="b" style="left:836px;top:517px;width:2px;height:26px;background:#CC5588;"></div>
<div class="b" style="left:836px;top:558px;width:2px;height:77px;background:#CC5588;"></div>
<div class="b" style="left:956px;top:517px;width:2px;height:26px;background:#CC5588;"></div>
<div class="b" style="left:956px;top:558px;width:2px;height:77px;background:#CC5588;"></div>
<div class="b" style="left:1076px;top:517px;width:2px;height:26px;background:#CC5588;"></div>
<div class="b" style="left:1076px;top:558px;width:2px;height:77px;background:#CC5588;"></div>
<div class="b" style="left:1196px;top:517px;width:2px;height:26px;background:#CC5588;"></div>
<div class="b" style="left:1196px;top:558px;width:2px;height:77px;background:#CC5588;"></div>
<div class="b" style="left:1213px;top:259px;width:28px;height:30px;background:#94A9FF;border-radius:0 15px 15px 0;"></div>
<div class="b" style="left:1213px;top:295px;width:28px;height:30px;background:#1E1608;border-radius:0 15px 15px 0;"></div>
<div class="b" style="left:1213px;top:331px;width:28px;height:30px;background:#FFFFFF;border-radius:0 15px 15px 0;"></div>
<div class="b" style="left:1213px;top:367px;width:28px;height:30px;background:#1A0F1E;border-radius:0 15px 15px 0;"></div>
<div class="b" style="left:1213px;top:403px;width:28px;height:30px;background:#94A9FF;border-radius:0 15px 15px 0;"></div>
<div class="b" style="left:1213px;top:439px;width:28px;height:30px;background:#1E1608;border-radius:0 15px 15px 0;"></div>
<div class="b" style="left:1213px;top:476px;width:28px;height:30px;background:#1E1E1E;border-radius:0 15px 15px 0;"></div>
<div class="b" style="left:1213px;top:513px;width:28px;height:30px;background:#FF55FF;border-radius:0 15px 15px 0;"></div>
<div class="b" style="left:1213px;top:550px;width:28px;height:30px;background:#94A9FF;border-radius:0 15px 15px 0;"></div>
<div class="b" style="left:1213px;top:587px;width:28px;height:30px;background:#1E1608;border-radius:0 15px 15px 0;"></div>
<div class="b" style="left:1213px;top:624px;width:28px;height:30px;background:#1E1E1E;border-radius:0 15px 15px 0;"></div>
<div class="b" style="left:526px;top:685px;width:190px;height:30px;background:#55DDF0;"></div>
<div class="t" style="left:538.29px;top:690.65px;font-size:22.33px;transform:scaleX(0.4841);color:#000;letter-spacing:0.67px;">Auxilliary Media Player Controls</div>
<div class="b" style="left:526px;top:722px;width:190px;height:30px;background:#BBBBBB;"></div>
<div class="t" style="left:594.59px;top:728.78px;font-size:21.69px;transform:scaleX(0.5193);color:#000;letter-spacing:0.65px;">Pandora</div>
<div class="t" style="left:649.84px;top:722.36px;font-size:31.11px;transform:scaleX(0.3974);color:#229922;letter-spacing:3.11px;">ON--LINE</div>
<div class="b" style="left:723px;top:685px;width:80px;height:30px;background:#FFAA00;"></div>
<div class="t" style="left:761.48px;top:692.56px;font-size:23.15px;transform:scaleX(0.4368);color:#000;letter-spacing:2.32px;">PAUSE</div>
<div class="b" style="left:808px;top:685px;width:80px;height:30px;background:#3ACC33;"></div>
<div class="t" style="left:853.88px;top:692.64px;font-size:22.40px;transform:scaleX(0.4467);color:#000;letter-spacing:2.24px;">NEXT</div>
<div class="b" style="left:722px;top:722px;width:80px;height:30px;background:#A87FDF;"></div>
<div class="t" style="left:734.81px;top:728.70px;font-size:23.60px;transform:scaleX(0.3863);color:#000;letter-spacing:2.36px;">LARGE - EQ</div>
<div class="b" style="left:776.5px;top:741px;width:3.5px;height:2.2px;background:#000;"></div>
<div class="b" style="left:808px;top:722px;width:80px;height:30px;background:#F5D76E;"></div>
<div class="t" style="left:816.15px;top:728.64px;font-size:23.98px;transform:scaleX(0.4005);color:#000;letter-spacing:2.40px;">COVER  ART</div>
<div class="t" style="left:905.31px;top:680.52px;font-size:40.73px;transform:scaleX(0.4850);color:#FF55EE;letter-spacing:4.07px;">2:52</div>
<div class="t" style="left:905.24px;top:717.13px;font-size:41.56px;transform:scaleX(0.4708);color:#EE4444;letter-spacing:4.16px;">3:28</div>
<div class="b" style="left:957px;top:685px;width:251px;height:30px;background:#FF7777;"></div>
<div class="t" style="left:1086.60px;top:689.96px;font-size:22.92px;transform:scaleX(0.4672);color:#000;letter-spacing:0.69px;">Cigarette Daydreams</div>
<div class="b" style="left:958px;top:722px;width:251px;height:30px;background:#3D97DB;"></div>
<div class="t" style="left:1103.39px;top:728.23px;font-size:21.94px;transform:scaleX(0.4641);color:#000;letter-spacing:0.66px;">Cage The Elephant</div>
</body></html>
